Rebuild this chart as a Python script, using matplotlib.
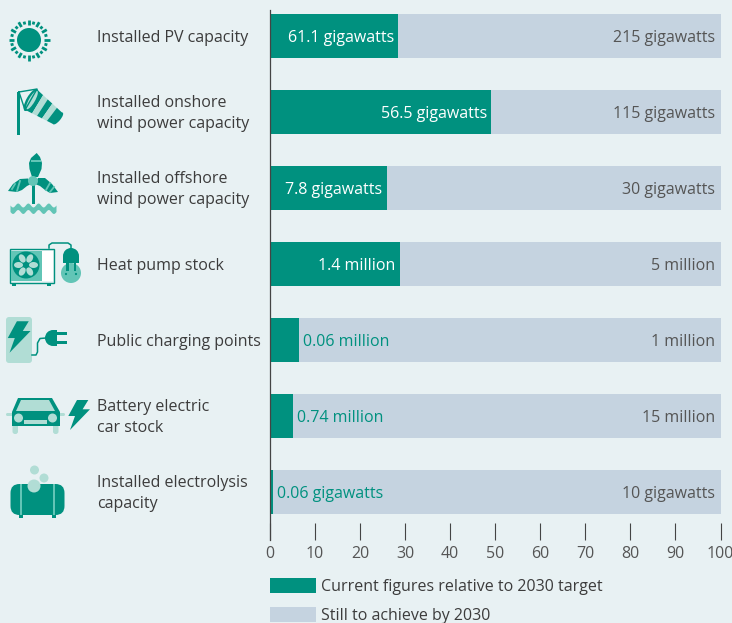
import numpy as np
import matplotlib
matplotlib.use('Agg')
import matplotlib.pyplot as plt
from matplotlib.patches import Circle, Ellipse, FancyBboxPatch, Polygon, Rectangle, Wedge

categories = ['Installed PV capacity', 'Installed onshore\nwind power capacity',
              'Installed offshore\nwind power capacity', 'Heat pump stock',
              'Public charging points', 'Battery electric\ncar stock',
              'Installed electrolysis\ncapacity']
current = [28.4, 49.1, 25.9, 28.8, 6.4, 5.0, 0.6]
current_labels = ['61.1 gigawatts', '56.5 gigawatts', '7.8 gigawatts', '1.4 million',
                  '0.06 million', '0.74 million', '0.06 gigawatts']
target_labels = ['215 gigawatts', '115 gigawatts', '30 gigawatts', '5 million',
                 '1 million', '15 million', '10 gigawatts']
legend_labels = ['Current figures relative to 2030 target', 'Still to achieve by 2030']

TEAL = '#00917F'
MID = '#62C5B6'
LIGHT = '#B1DDD5'
BLUE = '#C5D3E0'
BG = '#E8F1F3'
DARK = '#3C3C3C'

plt.rcParams['font.family'] = ['Open Sans', 'DejaVu Sans']

W, H = 732, 623
fig = plt.figure(figsize=(W / 100, H / 100), dpi=100, facecolor=BG)
ax = fig.add_axes([270 / W, 1 - 540 / H, 450.5 / W, 530 / H], facecolor='none')

y = np.arange(len(categories))
rest = [100 - c for c in current]
b1 = ax.barh(y, current, height=0.579, color=TEAL, zorder=2)
b2 = ax.barh(y, rest, left=current, height=0.579, color=BLUE, zorder=1)

ax.set_xlim(0, 100)
ax.set_ylim(6.632, -0.342)
ax.set_xticks(range(0, 101, 10))
ax.set_yticks([])
ax.tick_params(axis='x', direction='in', length=12.2, width=0.8, color='#444444',
               labelcolor='#555555', labelsize=11.5, pad=4)
for s in ['top', 'right', 'bottom']:
    ax.spines[s].set_visible(False)
ax.spines['left'].set_color('#444444')
ax.spines['left'].set_linewidth(0.9)
ax.spines['left'].set_zorder(5)

for i, c in enumerate(current):
    if c > 20:
        ax.annotate(current_labels[i], (c, i), xytext=(-3, -1.4), textcoords='offset points',
                    ha='right', va='center', color='white', fontsize=11.5, zorder=6)
    else:
        ax.annotate(current_labels[i], (c, i), xytext=(3, -1.4), textcoords='offset points',
                    ha='left', va='center', color=TEAL, fontsize=11.5, zorder=6)
    ax.annotate(target_labels[i], (100, i), xytext=(-4, -1.4), textcoords='offset points',
                ha='right', va='center', color='#555555', fontsize=11.5, zorder=6)
    fig.text(97 / W, 1 - (37.5 + 76 * i) / H, categories[i], ha='left', va='center',
             color=DARK, fontsize=11.5, linespacing=1.38)

leg = fig.legend([b1, b2], legend_labels, loc='upper left', bbox_to_anchor=(270 / W, 1 - 578 / H),
                 frameon=False, borderpad=0, borderaxespad=0, handlelength=2.88, handleheight=1.1,
                 handletextpad=0.33, labelspacing=0.72, fontsize=11.5, labelcolor=DARK)

# icons, drawn in pixel coordinates on a full-figure overlay
ic = fig.add_axes([0, 0, 1, 1], facecolor='none')
ic.set_xlim(0, W)
ic.set_ylim(H, 0)
ic.axis('off')


def bolt(cx, cy, s, color=TEAL):
    pts = np.array([[-2, -15], [9.3, -15], [3.6, -5.7], [11, -5.7], [-9, 15], [-4, 1], [-10.7, 1]]) * s
    ic.add_patch(Polygon(pts + [cx, cy], color=color, lw=0))


# sun
ic.add_patch(Circle((29, 40), 12, color=TEAL, lw=0))
for k, a in enumerate(np.linspace(0, 2 * np.pi, 24, endpoint=False)):
    r1 = 15 if k % 2 == 0 else 16
    r2 = 20.5 if k % 2 == 0 else 19
    ic.plot([29 + r1 * np.cos(a), 29 + r2 * np.cos(a)], [40 + r1 * np.sin(a), 40 + r2 * np.sin(a)],
            color=TEAL, lw=2.0, solid_capstyle='butt')

# windsock
ic.add_patch(Rectangle((17, 92), 3, 43, color=TEAL, lw=0))
ic.plot([19, 37, 25, 19], [92, 89, 110, 92], color=TEAL, lw=1)
p0, p1 = np.array([37, 89.5]), np.array([25.5, 110])
q0, q1 = np.array([62.5, 113]), np.array([53, 124])
edges = [0, .24, .42, .6, .78, 1]
for k in range(5):
    a, b = edges[k], edges[k + 1]
    poly = [p0 + (q0 - p0) * a, p0 + (q0 - p0) * b, p1 + (q1 - p1) * b, p1 + (q1 - p1) * a]
    ic.add_patch(Polygon(poly, color=LIGHT if k % 2 == 1 else TEAL, lw=0))
ic.add_patch(Ellipse((31, 100), 9, 25, angle=30, color=TEAL, lw=0))
ic.add_patch(Ellipse((32, 100), 6, 21, angle=30, color=LIGHT, lw=0))
ic.add_patch(Ellipse((58, 118.5), 5, 15, angle=40, color=TEAL, lw=0))

# offshore turbine
ic.add_patch(Rectangle((32, 184), 2.6, 20, color=TEAL, lw=0))
ic.add_patch(Polygon([[36.7, 153], [40, 157], [42, 163], [41.5, 169], [38, 177], [32, 177],
                      [29.5, 169], [29, 163], [31, 158]], color=TEAL, lw=0))
ic.add_patch(Polygon([[8, 191], [13, 184], [20, 179], [28, 178.5], [31, 184], [27, 186],
                      [22, 190], [17, 192]], color=TEAL, lw=0))
ic.add_patch(Polygon([[58, 192], [52, 184], [45, 178], [38, 178], [35, 184], [40, 186],
                      [45, 190], [50, 193]], color=TEAL, lw=0))
ic.add_patch(Rectangle((30.5, 160), 10.5, 1.6, color=MID, lw=0))
ic.plot([12, 15], [189, 184], color=MID, lw=1.3)
ic.plot([17, 20], [191, 181], color=MID, lw=1.3)
ic.plot([46, 50], [190, 183], color=MID, lw=1.3)
ic.plot([50, 54], [192, 187], color=MID, lw=1.3)
ic.add_patch(Circle((33, 181), 5, color=MID, lw=0))
wx = np.linspace(10, 56, 60)
wave = 205 + 2 * np.sin((wx - 10) / 46 * 2 * np.pi * 4.5)
ic.fill_between(wx, wave, wave + 6.5, color=MID, lw=0)

# heat pump
ic.add_patch(Rectangle((9.5, 248.5), 44, 34, facecolor=BG, edgecolor=TEAL, lw=1))
ic.add_patch(Rectangle((11, 251), 31, 30, color=MID, lw=0))
ic.add_patch(Rectangle((42, 251), 10.5, 30, color='white', lw=0))
ic.add_patch(Rectangle((12, 283), 4, 3, color=TEAL, lw=0))
ic.add_patch(Rectangle((47, 283), 4, 3, color=TEAL, lw=0))
ic.add_patch(Circle((26, 265), 13.5, color=TEAL, lw=0))
for a in np.linspace(0, 2 * np.pi, 6, endpoint=False):
    ic.add_patch(Ellipse((26 + 7.5 * np.cos(a), 265 + 7.5 * np.sin(a)), 9, 6, angle=np.degrees(a), color=LIGHT, lw=0))
ic.add_patch(Circle((26, 265), 3, color=TEAL, lw=0))
ic.add_patch(Circle((71, 273), 10, color=MID, lw=0))
ic.add_patch(Wedge((71, 256), 8, 180, 360, color=TEAL, lw=0))
ic.add_patch(Rectangle((63, 256), 16, 7, color=TEAL, lw=0))
ic.add_patch(Rectangle((66, 263), 2.5, 8, color=TEAL, lw=0))
ic.add_patch(Rectangle((73.5, 263), 2.5, 8, color=TEAL, lw=0))
ic.add_patch(Circle((66, 274), 1.1, color=TEAL, lw=0))
ic.add_patch(Circle((76, 274), 1.1, color=TEAL, lw=0))
ic.plot([49, 49, 52, 68, 71, 71], [248, 245, 243, 243, 245, 250], color=TEAL, lw=1.1)

# charging point
ic.add_patch(FancyBboxPatch((6, 317), 26, 46, boxstyle='round,pad=0,rounding_size=3', color=LIGHT, lw=0))
bolt(19, 337, 1.05)
ic.plot([32, 36, 37.5, 37.5, 40, 46], [355, 355, 352, 343, 338.5, 338], color=TEAL, lw=1.1)
ic.add_patch(Wedge((53, 338), 8, 90, 270, color=TEAL, lw=0))
ic.add_patch(Rectangle((53, 330), 4, 16, color=TEAL, lw=0))
ic.add_patch(Rectangle((57, 332), 10, 3, color=TEAL, lw=0))
ic.add_patch(Rectangle((57, 341), 10, 3, color=TEAL, lw=0))

# car
ic.add_patch(FancyBboxPatch((12.5, 424), 5.5, 10, boxstyle='round,pad=0,rounding_size=2.5', color=LIGHT, lw=0))
ic.add_patch(FancyBboxPatch((53, 424), 5.5, 10, boxstyle='round,pad=0,rounding_size=2.5', color=LIGHT, lw=0))
ic.add_patch(FancyBboxPatch((6, 413), 7, 3, boxstyle='round,pad=0,rounding_size=1.5', color=LIGHT, lw=0))
ic.add_patch(FancyBboxPatch((58, 413), 7, 3, boxstyle='round,pad=0,rounding_size=1.5', color=LIGHT, lw=0))
ic.add_patch(Polygon([[12, 412], [18, 398], [52, 398], [60, 412], [60, 426], [12, 426]], color=TEAL, lw=0))
ic.add_patch(Polygon([[16, 411], [21, 400], [49, 400], [55, 411]], color=LIGHT, lw=0))
ic.add_patch(Circle((18.5, 418), 4.5, color=LIGHT, lw=0))
ic.add_patch(Circle((52.5, 418), 4.5, color=LIGHT, lw=0))
ic.add_patch(Rectangle((24, 420), 23, 4, color=LIGHT, lw=0))
bolt(79, 415, 1.0)

# electrolysis tank
ic.add_patch(FancyBboxPatch((10.5, 484), 54, 31, boxstyle='round,pad=0,rounding_size=9', color=TEAL, lw=0))
ic.add_patch(Rectangle((19, 515), 4, 3, color=TEAL, lw=0))
ic.add_patch(Rectangle((52, 515), 4, 3, color=TEAL, lw=0))
ic.add_patch(Rectangle((20, 484), 2, 31, color=MID, lw=0))
ic.add_patch(Rectangle((53, 484), 2, 31, color=MID, lw=0))
ic.add_patch(Circle((34, 486), 6.5, color=LIGHT, lw=0))
ic.add_patch(Circle((44, 478), 4.5, color=LIGHT, lw=0))
ic.add_patch(Circle((34.5, 470), 4.5, color=LIGHT, lw=0))

fig.savefig('out.png', dpi=100, facecolor=BG)
